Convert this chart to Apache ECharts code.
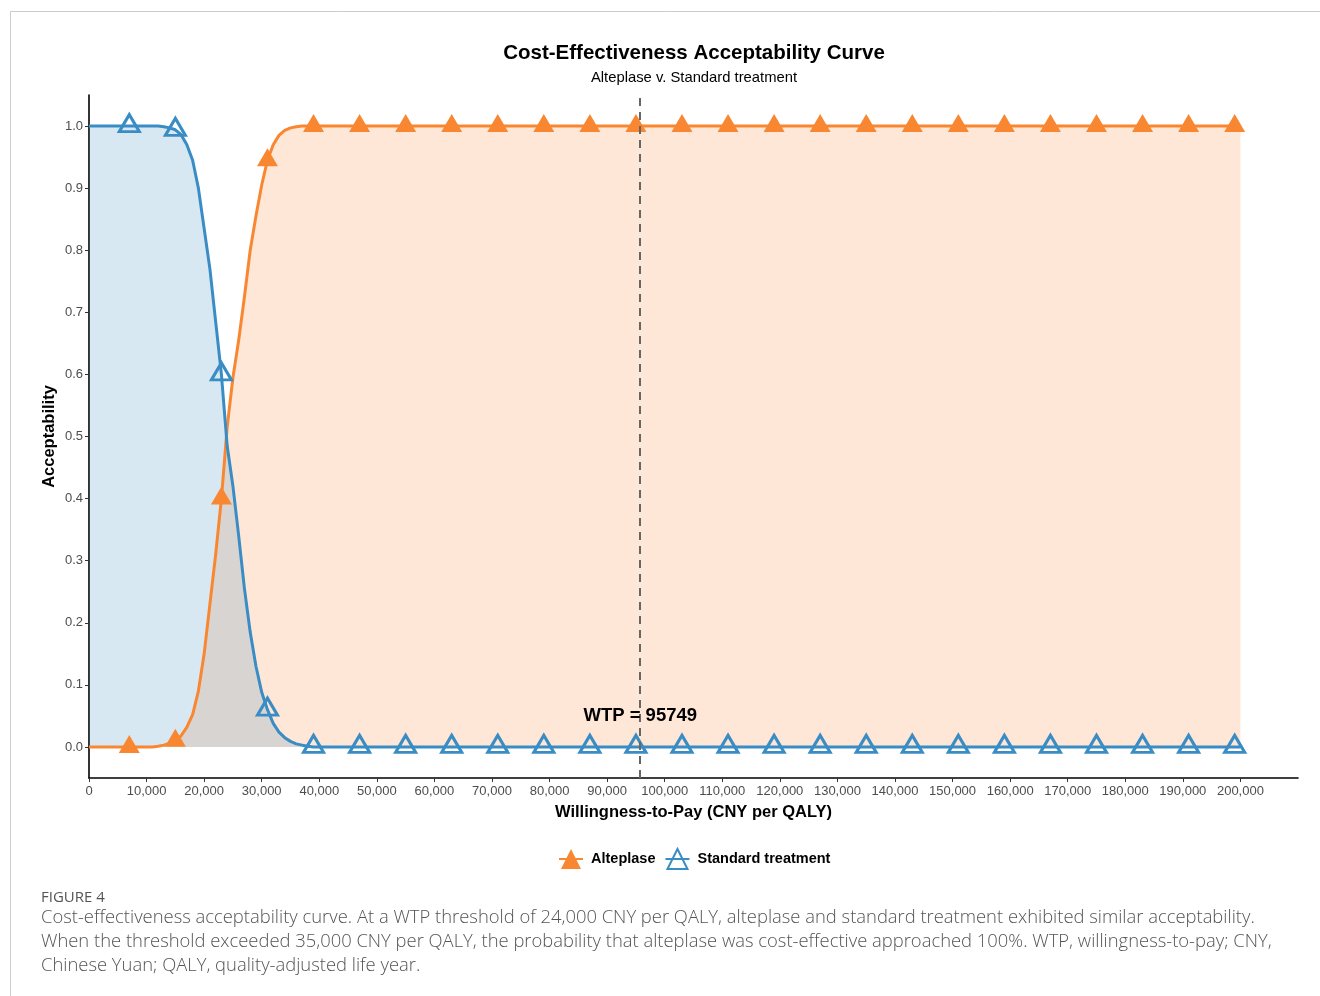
<!DOCTYPE html>
<html>
<head>
<meta charset="utf-8">
<script src="https://cdn.jsdelivr.net/npm/echarts@6/dist/echarts.min.js"></script>
<style>
  html, body { margin: 0; padding: 0; background: #ffffff; }
  #chart { width: 1320px; height: 996px; }
</style>
</head>
<body>
<div id="chart"></div>
<script>
// Willingness-to-pay grid (CNY per QALY)
const wtp = [
  0, 1000, 2000, 3000, 4000, 5000, 6000, 7000, 8000, 9000,
  10000, 11000, 12000, 13000, 14000, 15000, 16000, 17000, 18000, 19000,
  20000, 21000, 22000, 23000, 24000, 25000, 26000, 27000, 28000, 29000,
  30000, 31000, 32000, 33000, 34000, 35000, 36000, 37000, 38000, 39000,
  40000, 47000, 55000, 63000, 71000, 79000, 87000, 95000, 103000, 111000,
  119000, 127000, 135000, 143000, 151000, 159000, 167000, 175000, 183000, 191000,
  199000, 200000
];

// Probability that alteplase is cost-effective
const alteplase = [
  0, 0, 0, 0, 0, 0, 0, 0, 0, 0,
  0, 0, 0.001, 0.003, 0.006, 0.01, 0.018, 0.032, 0.052, 0.09,
  0.15, 0.23, 0.31, 0.40, 0.515, 0.595, 0.655, 0.725, 0.80, 0.855,
  0.905, 0.945, 0.97, 0.985, 0.993, 0.997, 0.999, 1, 1, 1,
  1, 1, 1, 1, 1, 1, 1, 1, 1, 1,
  1, 1, 1, 1, 1, 1, 1, 1, 1, 1,
  1, 1
];

// Probability that standard treatment is cost-effective
const standard = [
  1, 1, 1, 1, 1, 1, 1, 1, 1, 1,
  1, 1, 1, 0.999, 0.997, 0.994, 0.986, 0.97, 0.945, 0.90,
  0.835, 0.77, 0.685, 0.60, 0.485, 0.42, 0.34, 0.255, 0.185, 0.13,
  0.088, 0.06, 0.038, 0.024, 0.015, 0.009, 0.005, 0.003, 0.001, 0,
  0, 0, 0, 0, 0, 0, 0, 0, 0, 0,
  0, 0, 0, 0, 0, 0, 0, 0, 0, 0,
  0, 0
];

// WTP values that carry a point marker
const markerWtp = [
  7000, 15000, 23000, 31000, 39000, 47000, 55000, 63000, 71000, 79000,
  87000, 95000, 103000, 111000, 119000, 127000, 135000, 143000, 151000, 159000,
  167000, 175000, 183000, 191000, 199000
];

const xTicks = [
  0, 10000, 20000, 30000, 40000, 50000, 60000, 70000, 80000, 90000, 100000,
  110000, 120000, 130000, 140000, 150000, 160000, 170000, 180000, 190000, 200000
];
const yTicks = [0, 0.1, 0.2, 0.3, 0.4, 0.5, 0.6, 0.7, 0.8, 0.9, 1.0];

const wtpThreshold = 95749;
const wtpLabelLevel = 0.05;

const seriesNames = ['Alteplase', 'Standard treatment'];
const captionLines = [
  'Cost-effectiveness acceptability curve. At a WTP threshold of 24,000 CNY per QALY, alteplase and standard treatment exhibited similar acceptability.',
  'When the threshold exceeded 35,000 CNY per QALY, the probability that alteplase was cost-effective approached 100%. WTP, willingness-to-pay; CNY,',
  'Chinese Yuan; QALY, quality-adjusted life year.'
];

const ORANGE = '#F98731';
const BLUE = '#3A8DC4';
const FONT = '"Liberation Sans", Arial, sans-serif';
const CAPTION_FONT = '"Open Sans", Lato, sans-serif';

const thousands = v => String(v).replace(/\B(?=(\d{3})+(?!\d))/g, ',');

function areaData(values) {
  return wtp.map((x, i) => [x, values[i]]);
}
function lineData(values) {
  return wtp.map((x, i) => ({
    value: [x, values[i]],
    symbol: markerWtp.includes(x) ? 'triangle' : 'none'
  }));
}

const chart = echarts.init(document.getElementById('chart'), null, { renderer: 'canvas' });

chart.setOption({
  animation: false,
  backgroundColor: '#ffffff',
  textStyle: { fontFamily: FONT },
  grid: { left: 89, right: 22, top: 95, bottom: 218, containLabel: false, outerBoundsMode: 'none' },
  xAxis: {
    type: 'value',
    min: 0,
    max: 210000,
    name: 'Willingness-to-Pay (CNY per QALY)',
    nameLocation: 'middle',
    nameGap: 26,
    nameMoveOverlap: false,
    nameTextStyle: { fontFamily: FONT, fontWeight: 'bold', fontSize: 16.5, color: '#000' },
    axisLine: { show: true, onZero: false, lineStyle: { color: '#000', width: 1.6 } },
    axisTick: { show: true, length: 4, customValues: xTicks, lineStyle: { color: '#333', width: 1 } },
    axisLabel: { customValues: xTicks, formatter: thousands, color: '#4d4d4d', fontSize: 13, margin: 7, fontFamily: FONT },
    splitLine: { show: false }
  },
  yAxis: {
    type: 'value',
    min: -0.05,
    max: 1.05,
    name: 'Acceptability',
    nameLocation: 'middle',
    nameGap: 31,
    nameMoveOverlap: false,
    nameTextStyle: { fontFamily: FONT, fontWeight: 'bold', fontSize: 16.5, color: '#000' },
    axisLine: { show: true, onZero: false, lineStyle: { color: '#000', width: 1.6 } },
    axisTick: { show: true, length: 4, customValues: yTicks, lineStyle: { color: '#333', width: 1 } },
    axisLabel: { customValues: yTicks, formatter: v => v.toFixed(1), color: '#4d4d4d', fontSize: 13, margin: 6, fontFamily: FONT },
    splitLine: { show: false }
  },
  legend: {
    data: seriesNames,
    left: 553,
    top: 843,
    itemWidth: 24,
    itemHeight: 25,
    itemGap: 9,
    selectedMode: false,
    textStyle: { fontFamily: FONT, fontWeight: 'bold', fontSize: 14.5, color: '#000', padding: [0, 0, 0, 3] }
  },
  series: [
    {
      name: 'alteplase-area',
      type: 'line',
      data: areaData(alteplase),
      symbol: 'none',
      smooth: false,
      silent: true,
      lineStyle: { width: 0 },
      areaStyle: { color: ORANGE, opacity: 0.2 },
      z: 1
    },
    {
      name: 'standard-area',
      type: 'line',
      data: areaData(standard),
      symbol: 'none',
      smooth: false,
      silent: true,
      lineStyle: { width: 0 },
      areaStyle: { color: BLUE, opacity: 0.2 },
      z: 2
    },
    {
      name: seriesNames[0],
      type: 'line',
      data: lineData(alteplase),
      smooth: false,
      symbol: 'triangle',
      symbolSize: [21, 18],
      symbolOffset: [0, -3],
      showAllSymbol: true,
      color: ORANGE,
      lineStyle: { color: ORANGE, width: 3, join: 'round' },
      itemStyle: { color: ORANGE, borderWidth: 0 },
      emphasis: { disabled: true },
      z: 3
    },
    {
      name: seriesNames[1],
      type: 'line',
      data: lineData(standard),
      smooth: false,
      symbol: 'triangle',
      symbolSize: [20, 17],
      symbolOffset: [0, -3],
      showAllSymbol: true,
      color: BLUE,
      lineStyle: { color: BLUE, width: 3, join: 'round' },
      itemStyle: { color: 'rgba(255,255,255,0)', borderColor: BLUE, borderWidth: 3, borderJoin: 'miter' },
      emphasis: { disabled: true },
      z: 4
    },
    {
      name: 'wtp-threshold',
      type: 'line',
      data: [],
      silent: true,
      z: 5,
      markLine: {
        silent: true,
        symbol: ['none', 'none'],
        label: { show: false },
        lineStyle: { color: '#666666', width: 2, type: [8, 6] },
        data: [{ xAxis: wtpThreshold }]
      },
      markPoint: {
        silent: true,
        symbol: 'circle',
        symbolSize: 1,
        itemStyle: { color: 'rgba(0,0,0,0)' },
        label: {
          show: true,
          position: 'inside',
          formatter: 'WTP = ' + wtpThreshold,
          fontFamily: FONT,
          fontWeight: 'bold',
          fontSize: 18.5,
          color: '#000'
        },
        data: [{ coord: [wtpThreshold, wtpLabelLevel] }]
      }
    }
  ],
  graphic: [
    {
      type: 'rect',
      silent: true,
      shape: { x: 10.5, y: 11.5, width: 1400, height: 1100 },
      style: { fill: 'none', stroke: '#cccccc', lineWidth: 1 }
    },
    {
      type: 'text',
      x: 694, y: 53,
      style: {
        text: 'Cost-Effectiveness Acceptability Curve',
        font: 'bold 20.5px ' + FONT,
        fill: '#000', textAlign: 'center', textVerticalAlign: 'middle'
      }
    },
    {
      type: 'text',
      x: 694, y: 78,
      style: {
        text: 'Alteplase v. Standard treatment',
        font: '14.8px ' + FONT,
        fill: '#000', textAlign: 'center', textVerticalAlign: 'middle'
      }
    },
    {
      type: 'text',
      x: 41, y: 898,
      style: {
        text: 'FIGURE 4',
        font: '15px ' + CAPTION_FONT,
        fill: '#555555', textAlign: 'left', textVerticalAlign: 'middle'
      }
    },
    {
      type: 'text',
      x: 41, y: 918,
      style: { text: captionLines[0], font: '300 18.4px ' + CAPTION_FONT, fill: '#555555', textAlign: 'left', textVerticalAlign: 'middle' }
    },
    {
      type: 'text',
      x: 41, y: 942,
      style: { text: captionLines[1], font: '300 18.4px ' + CAPTION_FONT, fill: '#555555', textAlign: 'left', textVerticalAlign: 'middle' }
    },
    {
      type: 'text',
      x: 41, y: 966,
      style: { text: captionLines[2], font: '300 18.4px ' + CAPTION_FONT, fill: '#555555', textAlign: 'left', textVerticalAlign: 'middle' }
    }
  ]
});
</script>
</body>
</html>
